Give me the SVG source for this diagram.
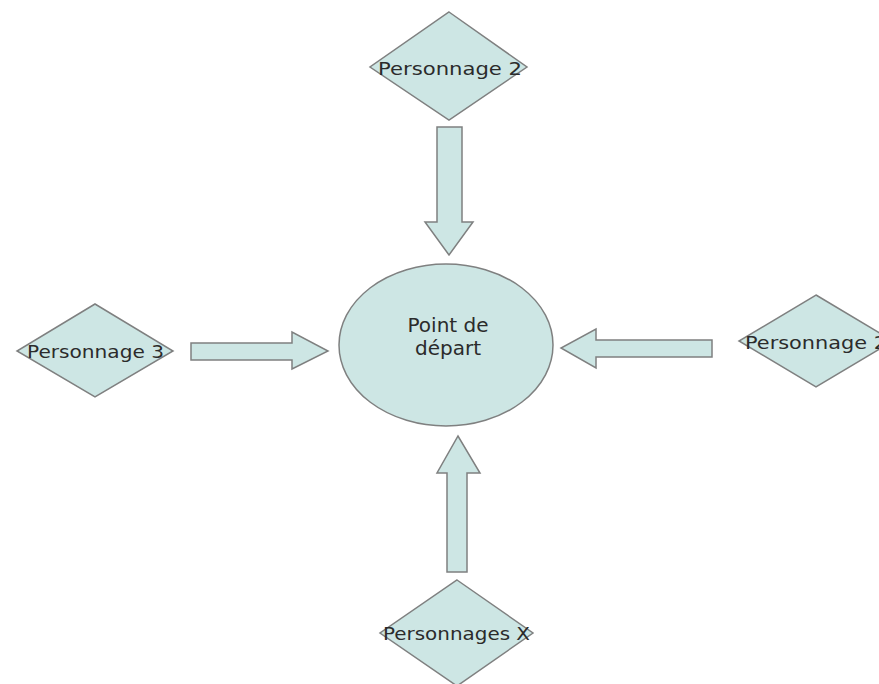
<svg xmlns="http://www.w3.org/2000/svg" width="879" height="684" viewBox="0 0 879 684">
<style>
.shape{fill:#cde6e4;stroke:#7f8080;stroke-width:1.5;stroke-linejoin:miter}
.lbl{font-family:"DejaVu Sans",Verdana,sans-serif;font-size:18px;fill:#2b2b2b}
.ctr{font-family:"DejaVu Sans",Verdana,sans-serif;font-size:20px;fill:#2b2b2b}
</style>
<rect width="879" height="684" fill="#ffffff"/>
<g id="connectors">
<polygon class="shape" points="437,127 462,127 462,222 473,222 449,255 425,222 437,222"/>
<polygon class="shape" points="191,343 292,343 292,332 328,351 292,369 292,360 191,360"/>
<polygon class="shape" points="712,340 596,340 596,329 561,348 596,368 596,357 712,357"/>
<polygon class="shape" points="447,572 447,473 437,473 458,436 480,473 467,473 467,572"/>
</g>
<g id="start">
<ellipse class="shape" cx="446" cy="345" rx="107" ry="81"/>
<text class="ctr" x="448" y="332" text-anchor="middle">Point de</text>
<text class="ctr" x="448" y="355" text-anchor="middle">départ</text>
</g>
<g id="p2top">
<polygon class="shape" points="449,12 527,67 449,120 370,67"/>
<text class="lbl" x="378" y="75" textLength="144" lengthAdjust="spacingAndGlyphs">Personnage 2</text>
</g>
<g id="p3">
<polygon class="shape" points="95,304 173,351 95,397 17,351"/>
<text class="lbl" x="27" y="358" textLength="137" lengthAdjust="spacingAndGlyphs">Personnage 3</text>
</g>
<g id="p2right">
<polygon class="shape" points="816,295 893,341 816,387 739,341"/>
<text class="lbl" x="745" y="349" textLength="142" lengthAdjust="spacingAndGlyphs">Personnage 2</text>
</g>
<g id="px">
<polygon class="shape" points="457,580 533,633 457,686 380,633"/>
<text class="lbl" x="383" y="640" textLength="147" lengthAdjust="spacingAndGlyphs">Personnages X</text>
</g>
</svg>
